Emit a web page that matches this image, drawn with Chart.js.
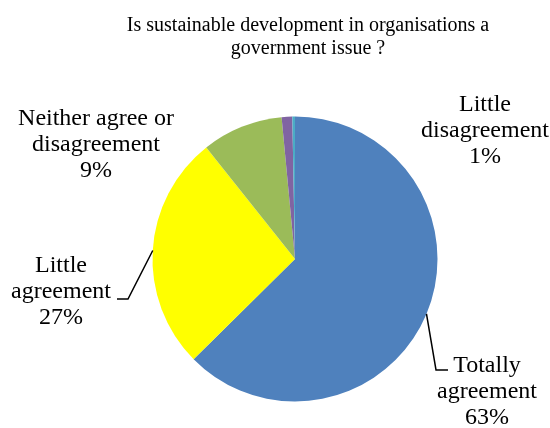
<!DOCTYPE html>
<html>
<head>
<meta charset="utf-8">
<script src="https://cdn.jsdelivr.net/npm/chart.js@4/dist/chart.umd.min.js"></script>
<style>
    html, body { margin: 0; padding: 0; background: #fff; }
    #surveyChart { display: block; }
</style>
</head>
<body>
<canvas id="surveyChart" width="550" height="428"></canvas>
<script>
// ======================
// Survey answers
// ======================
const titleLines = ["Is sustainable development in organisations a", "government issue ?"];
const answers = ["Totally agreement", "Little agreement", "Neither agree or disagreement", "Little disagreement", "Totally disagreement"];
const shares = [62.6, 26.7, 9.2, 1.2, 0.3];
const sliceColors = ["#4F81BD", "#FFFF00", "#9BBB59", "#8064A2", "#4BACC6"];

// label text lines per slice (null = no label), with where each block sits
const labelLines = [
    ["Totally", "agreement"],
    ["Little", "agreement"],
    ["Neither agree or", "disagreement"],
    ["Little", "disagreement"],
    null
];
const labelSpots = [
    { x: 487, y: 372, leader: [[436, 370], [448, 370]] },
    { x: 61, y: 272, leader: [[128, 299], [117, 299]] },
    { x: 96, y: 125, leader: null },
    { x: 485, y: 111, leader: null },
    null
];

const FONT = "'Liberation Serif', 'Times New Roman', serif";

function percentText(i) {
    const total = shares.reduce((s, v) => s + v, 0);
    return Math.round(shares[i] / total * 100) + "%";
}

// title + data labels with leader lines
const labelPlugin = {
    id: "labelPlugin",
    afterDraw(chart) {
        const ctx = chart.ctx;
        ctx.save();
        ctx.fillStyle = "#000";
        ctx.textAlign = "center";
        ctx.textBaseline = "alphabetic";

        ctx.font = "20px " + FONT;
        titleLines.forEach((t, k) => ctx.fillText(t, 308, 31 + k * 23));

        const arcs = chart.getDatasetMeta(0).data;
        ctx.font = "24px " + FONT;
        labelLines.forEach((lines, i) => {
            if (!lines) return;
            const spot = labelSpots[i];
            lines.concat([percentText(i)]).forEach((t, k) => ctx.fillText(t, spot.x, spot.y + k * 26));

            if (spot.leader) {
                const arc = arcs[i];
                const mid = (arc.startAngle + arc.endAngle) / 2;
                ctx.beginPath();
                ctx.moveTo(arc.x + Math.cos(mid) * arc.outerRadius, arc.y + Math.sin(mid) * arc.outerRadius);
                spot.leader.forEach(p => ctx.lineTo(p[0], p[1]));
                ctx.strokeStyle = "#000";
                ctx.lineWidth = 1.5;
                ctx.stroke();
            }
        });
        ctx.restore();
    }
};

new Chart(document.getElementById("surveyChart").getContext("2d"), {
    type: "pie",
    data: {
        labels: answers,
        datasets: [{
            data: shares,
            backgroundColor: sliceColors,
            borderWidth: 0
        }]
    },
    options: {
        responsive: false,
        animation: false,
        layout: { padding: { left: 152.5, right: 112.5, top: 116.5, bottom: 26.5 } },
        plugins: {
            legend: { display: false },
            title: { display: false },
            tooltip: { enabled: false }
        }
    },
    plugins: [labelPlugin]
});
</script>
</body>
</html>
